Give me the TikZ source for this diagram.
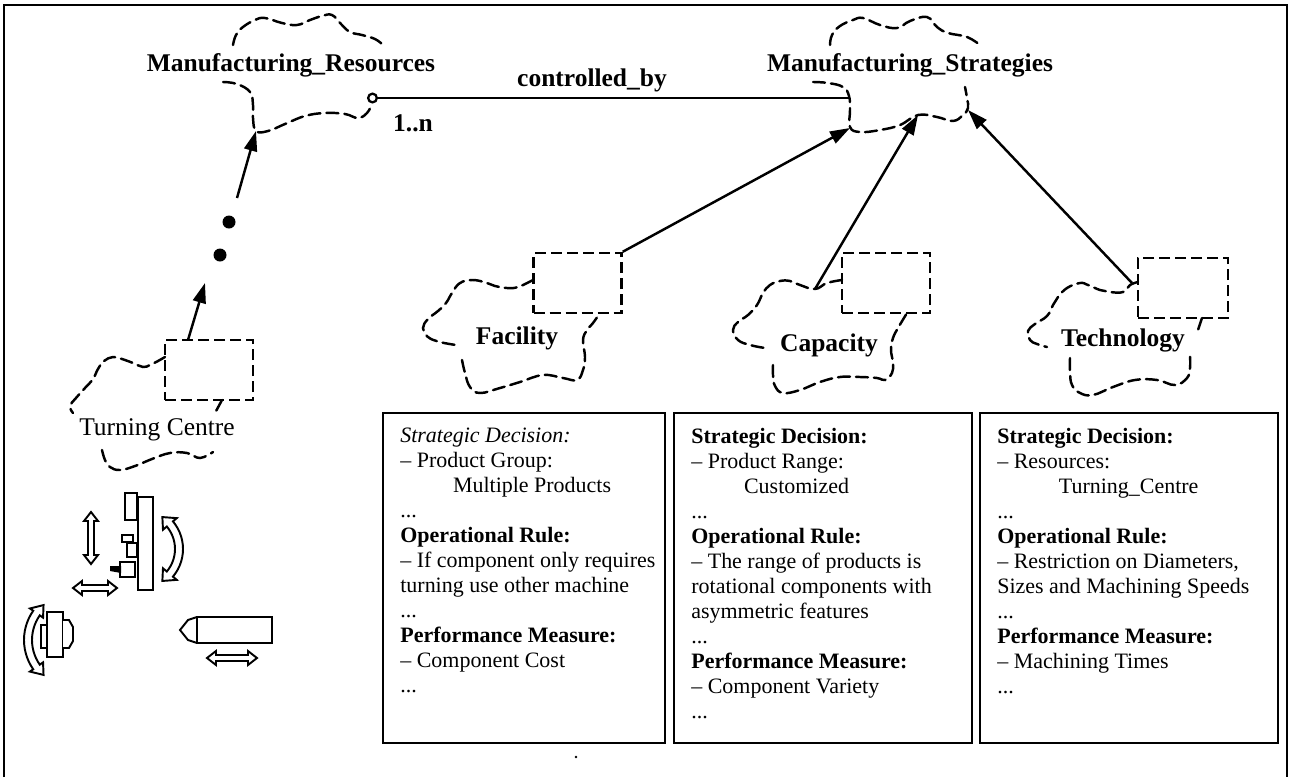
\documentclass[tikz,border=0pt]{standalone}
\usepackage{fontspec}
\setmainfont{Liberation Serif}
\usetikzlibrary{arrows.meta}

\tikzset{
  frame/.style={line width=1.2pt},
  cloudline/.style={line width=1.4pt,dash pattern=on 2.4mm off 1.2mm,line cap=round},
  slot/.style={draw,line width=1.4pt,dash pattern=on 2.2mm off 1mm,minimum width=17.6mm,minimum height=12mm,inner sep=0pt},
  link/.style={line width=1.4pt,-{Triangle[length=4mm,width=2.6mm]}},
  assoc/.style={line width=1.3pt,{Circle[open,length=2.2mm,width=2.2mm]}-},
  cloudname/.style={font=\fontsize{14.5}{17}\selectfont\bfseries,inner sep=0pt},
  infobox/.style={draw,line width=1.3pt,anchor=north west,inner sep=0pt,minimum height=66mm},
  infotext/.style={anchor=north west,align=left,inner sep=0pt,font=\fontsize{12.5}{14.2}\selectfont},
  spot/.style={circle,fill,inner sep=0pt,minimum size=2.6mm},
  tool/.style={line width=1.1pt,fill=white},
  twoway/.pic={\filldraw[tool] (-#1,0) -- (-#1+9,-7) -- (-#1+9,-3) -- (#1-9,-3) -- (#1-9,-7) -- (#1,0)
      -- (#1-9,7) -- (#1-9,3) -- (-#1+9,3) -- (-#1+9,7) -- cycle;}
}

\begin{document}
\begin{tikzpicture}[x=0.2mm,y=-0.2mm]
  \useasboundingbox (0,0) rectangle (1292,777);
  \draw[frame] (4,777) |- (1287,5) -- (1287,777);

  % top level classes
  \node[cloudname] (mres) at (291,65) {Manufacturing\_Resources};
  \node[cloudname] (mstrat) at (910,65) {Manufacturing\_Strategies};
  \node[cloudname] (ctrl) at (592,80) {controlled\_by};
  \node[cloudname] (card) at (413,123) {1..n};

  \draw[cloudline] plot[smooth,tension=0.7] coordinates {(233,45) (236,35) (243,27) (255,20) (265,18) (282,23) (297,25) (310,20) (322,16) (332,15) (341,24) (350,32) (362,35) (375,39) (383,45)};
  \draw[cloudline] plot[smooth,tension=0.7] coordinates {(223,82) (237,84) (250,92) (253,105) (253,118) (256,131) (268,131) (285,124) (305,116) (325,113) (345,114) (358,118) (367,113) (372,104)};

  \draw[cloudline] plot[smooth,tension=0.7] coordinates {(830,45) (832,35) (840,26) (853,20) (863,18) (880,25) (897,28) (910,21) (927,17) (937,27) (948,33) (967,37) (980,45)};
  \draw[cloudline] plot[smooth,tension=0.7] coordinates {(813,82) (828,83) (843,87) (849,96) (850,110) (850,127) (860,132) (880,130) (900,125) (918,115) (937,117) (953,121) (963,115) (968,108) (967,98) (965,87)};

  \coordinate (mrport) at (367,98);
  \coordinate (msport) at (849,98);
  \draw[assoc] (mrport) -- (msport);

  % strategy subclasses
  \node[slot] (facslot) at (577.5,283) {};
  \node[slot] (capslot) at (886,283) {};
  \node[slot,minimum width=18mm] (techslot) at (1183,288) {};
  \node[cloudname] (fac) at (517,338) {Facility};
  \node[cloudname] (cap) at (829,345) {Capacity};
  \node[cloudname] (tech) at (1123,340) {Technology};

  \draw[cloudline] plot[smooth,tension=0.7] coordinates {(533,280) (518,287) (507,288) (495,286) (487,283) (473,280) (460,283) (452,293) (446,303) (438,311) (428,319) (423,328) (428,337) (440,342) (456,345)};
  \draw[cloudline] plot[smooth,tension=0.7] coordinates {(462,360) (465,373) (470,387) (480,393) (500,388) (520,382) (543,375) (563,378) (577,380) (583,370) (585,357) (583,340) (587,330) (593,323) (600,313)};

  \draw[cloudline] plot[smooth,tension=0.7] coordinates {(842,280) (827,283) (815,289) (800,285) (790,281) (780,281) (770,285) (763,293) (757,305) (748,315) (738,322) (733,330) (738,340) (750,345) (765,348)};
  \draw[cloudline] plot[smooth,tension=0.7] coordinates {(773,365) (773,375) (775,386) (783,393) (800,390) (820,382) (840,377) (860,377) (877,378) (885,380) (892,373) (893,363) (891,350) (893,338) (898,328) (907,313)};

  \draw[cloudline] plot[smooth,tension=0.7] coordinates {(1138,282) (1130,285) (1123,292) (1110,292) (1100,290) (1088,285) (1080,283) (1067,288) (1058,297) (1053,305) (1047,316) (1035,324) (1028,331) (1030,340) (1037,344) (1047,347)};
  \draw[cloudline] (1202,318) -- (1198,330);
  \draw[cloudline] plot[smooth,tension=0.7] coordinates {(1070,358) (1070,372) (1072,385) (1080,393) (1093,395) (1113,387) (1135,380) (1157,380) (1175,385) (1187,378) (1190,368) (1190,356)};

  \coordinate (msfac) at (850,128);
  \coordinate (mscap) at (918,115);
  \coordinate (mstech) at (968,110);
  \coordinate (capfoot) at (815,289);
  \coordinate (techfoot) at (1132,283);
  \draw[link] (facslot.north east) -- (msfac);
  \draw[link] (capfoot) -- (mscap);
  \draw[link] (techfoot) -- (mstech);

  % resource subclass
  \node[slot] (turnslot) at (209,370) {};
  \node[font=\fontsize{14.5}{17}\selectfont,inner sep=0pt] (turn) at (157,430) {Turning Centre};
  \draw[cloudline] plot[smooth,tension=0.7] coordinates {(165,357) (158,361) (150,365) (143,367) (133,363) (122,359) (113,357) (104,361) (98,369) (93,379) (85,388) (76,398) (70,406) (73,413)};
  \draw[cloudline] (222,400) -- (215,413);
  \draw[cloudline] plot[smooth,tension=0.7] coordinates {(102,450) (105,460) (110,467) (120,470) (135,466) (152,459) (170,453) (187,453) (200,458) (213,452)};

  \coordinate (turnfoot) at (188,340);
  \coordinate (turnhead) at (205,283);
  \node[spot] (gapa) at (220,255) {};
  \node[spot] (gapb) at (229,222) {};
  \coordinate (mrtail) at (237,198);
  \coordinate (mrhead) at (256,131);
  \draw[link] (turnfoot) -- (turnhead);
  \draw[link] (mrtail) -- (mrhead);

  % turning centre sketch
  \draw[tool] (138,497) rectangle (153,590);
  \draw[tool] (125,493) rectangle (137,520);
  \draw[tool] (122,535) rectangle (133,542);
  \draw[tool] (127,543) rectangle (137,557);
  \draw[tool] (120,562) rectangle (135,577);
  \fill (110,566) -- (121,566) -- (121,573) -- (110,571) -- cycle;
  \filldraw[tool] plot[domain=-40:40,samples=15] ({140+43*cos(\x)},{549+43*sin(\x)})
    -- ({140+48*cos(40)},{549+48*sin(40)}) -- ({140+39*cos(55)},{549+39*sin(55)})
    -- ({140+30*cos(40)},{549+30*sin(40)})
    -- plot[domain=40:-40,samples=15] ({140+35*cos(\x)},{549+35*sin(\x)})
    -- ({140+30*cos(-40)},{549+30*sin(-40)}) -- ({140+39*cos(-55)},{549+39*sin(-55)})
    -- ({140+48*cos(-40)},{549+48*sin(-40)}) -- cycle;
  \pic[rotate=90] at (91,538) {twoway=26};
  \pic at (95,588) {twoway=22};

  \draw[tool] (41,625) rectangle (47,648);
  \draw[tool] (47,612) rectangle (63,657);
  \draw[tool] (63,620) -- (69,620) -- (73,627) -- (73,641) -- (69,648) -- (63,648);
  \filldraw[tool] plot[domain=145:215,samples=15] ({75+51*cos(\x)},{640+51*sin(\x)})
    -- ({75+55*cos(215)},{640+55*sin(215)}) -- ({75+47*cos(228)},{640+47*sin(228)})
    -- ({75+39*cos(215)},{640+39*sin(215)})
    -- plot[domain=215:145,samples=15] ({75+43*cos(\x)},{640+43*sin(\x)})
    -- ({75+39*cos(145)},{640+39*sin(145)}) -- ({75+47*cos(132)},{640+47*sin(132)})
    -- ({75+55*cos(145)},{640+55*sin(145)}) -- cycle;

  \draw[tool] (180,630) -- (188,620) -- (197,617) -- (272,617) -- (272,643) -- (197,643) -- (188,640) -- cycle;
  \draw[tool] (197,617) -- (197,643);
  \pic at (232,658) {twoway=25};

  % decision boxes
  \node[infobox,minimum width=56.4mm] (facinfo) at (382,412) {};
  \node[infobox,minimum width=59.6mm] (capinfo) at (673,412) {};
  \node[infobox,minimum width=59.6mm] (techinfo) at (979,412) {};

  \node[infotext] at ([shift={(18,16)}]facinfo.north west) {\textit{Strategic Decision:}\\
    -- Product Group:\\
    \hspace*{2.4em}Multiple Products\\
    ...\\
    \textbf{Operational Rule:}\\
    -- If component only requires\\
    turning use other machine\\
    ...\\
    \textbf{Performance Measure:}\\
    -- Component Cost\\
    ...};
  \node[infotext] at ([shift={(18,16)}]capinfo.north west) {\textbf{Strategic Decision:}\\
    -- Product Range:\\
    \hspace*{2.4em}Customized\\
    ...\\
    \textbf{Operational Rule:}\\
    -- The range of products is\\
    rotational components with\\
    asymmetric features\\
    ...\\
    \textbf{Performance Measure:}\\
    -- Component Variety\\
    ...};
  \node[infotext] at ([shift={(18,16)}]techinfo.north west) {\textbf{Strategic Decision:}\\
    -- Resources:\\
    \hspace*{2.8em}Turning\_Centre\\
    ...\\
    \textbf{Operational Rule:}\\
    -- Restriction on Diameters,\\
    Sizes and Machining Speeds\\
    ...\\
    \textbf{Performance Measure:}\\
    -- Machining Times\\
    ...};

  \fill (576,757) circle[radius=0.8pt];
\end{tikzpicture}
\end{document}
